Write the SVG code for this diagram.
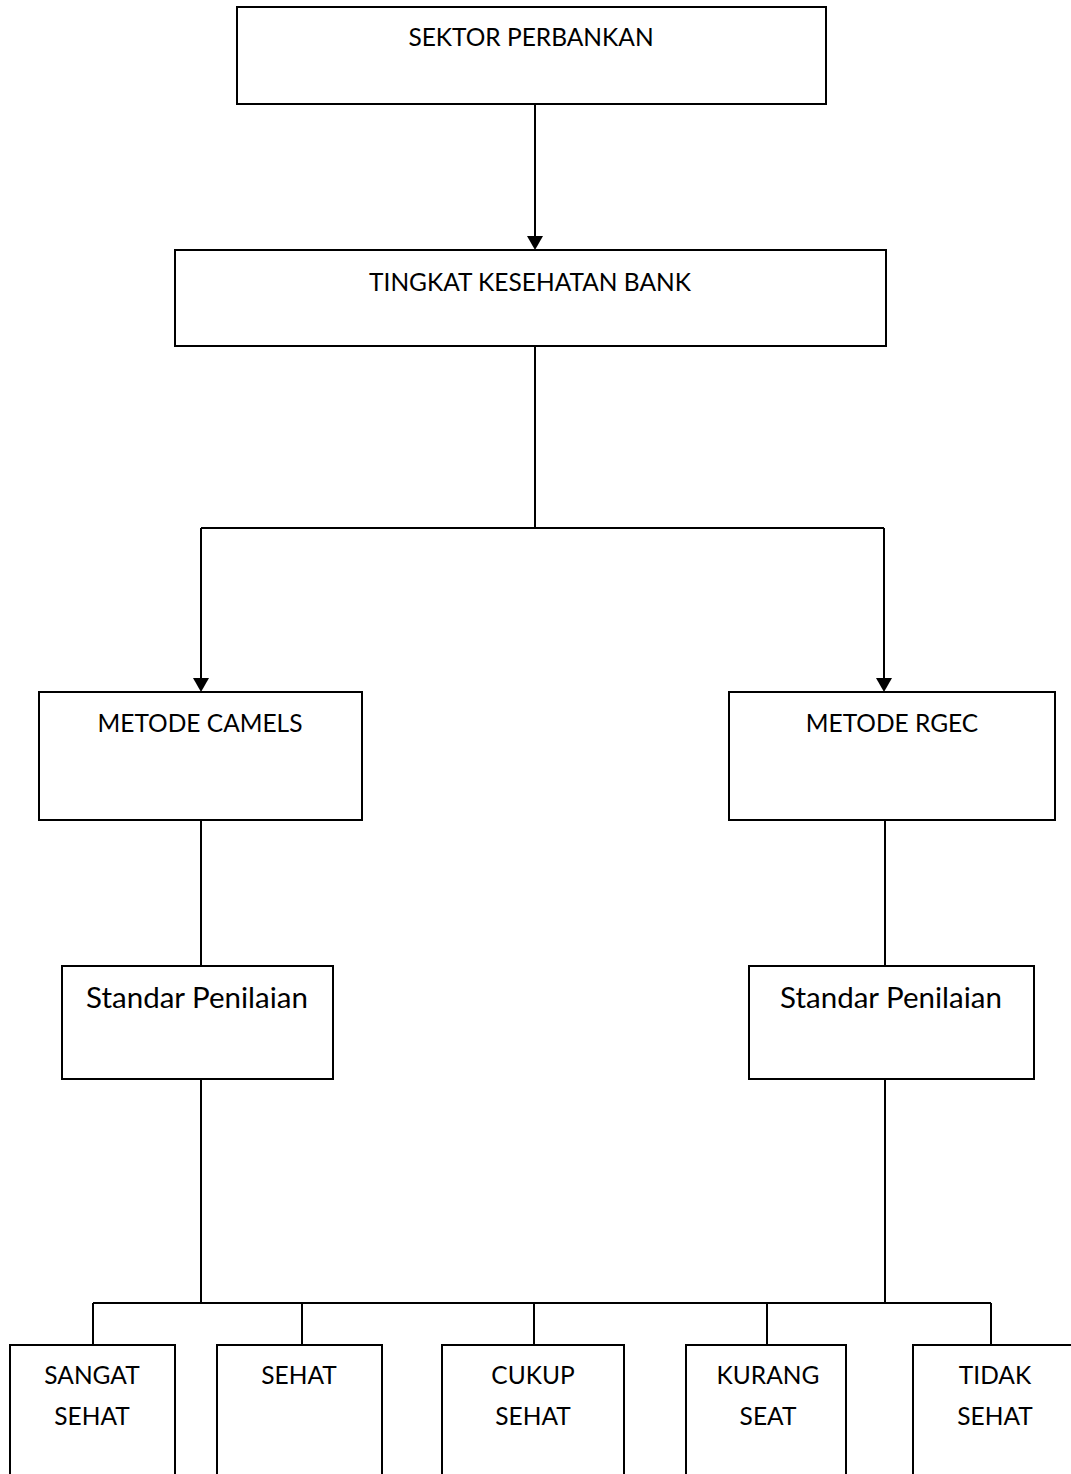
<svg xmlns="http://www.w3.org/2000/svg" width="1071" height="1474" viewBox="0 0 1071 1474">
<style>
.box{fill:#fff;stroke:#000;stroke-width:2}
.t{font-family:Lato,"Liberation Sans",sans-serif;font-size:24.5px;fill:#000;text-anchor:middle}
.tl{font-family:Lato,"Liberation Sans",sans-serif;font-size:29.5px;fill:#000;text-anchor:middle}
.c{fill:none;stroke:#000;stroke-width:2}
.ah{fill:#000}
</style>
<rect width="1071" height="1474" fill="#fff"/>
<g id="connectors">
<path class="c" d="M535 104V238"/>
<polygon class="ah" points="527,236 543,236 535,250"/>
<path class="c" d="M535 346V528M201 528H884M201 528V680M884 528V680"/>
<polygon class="ah" points="193,678 209,678 201,692"/>
<polygon class="ah" points="876,678 892,678 884,692"/>
<path class="c" d="M201 820V966M885 820V966M201 1079V1303M885 1079V1303M93 1303H991M93 1303V1345M302 1303V1345M534 1303V1345M767 1303V1345M991 1303V1345"/>
</g>
<g id="sektor"><rect class="box" x="237" y="7" width="589" height="97"/><text class="t" x="531" y="46">SEKTOR PERBANKAN</text></g>
<g id="tingkat"><rect class="box" x="175" y="250" width="711" height="96"/><text class="t" x="530" y="291">TINGKAT KESEHATAN BANK</text></g>
<g id="camels"><rect class="box" x="39" y="692" width="323" height="128"/><text class="t" x="200" y="732">METODE CAMELS</text></g>
<g id="rgec"><rect class="box" x="729" y="692" width="326" height="128"/><text class="t" x="892" y="732">METODE RGEC</text></g>
<g id="standar1"><rect class="box" x="62" y="966" width="271" height="113"/><text class="tl" x="197" y="1008">Standar Penilaian</text></g>
<g id="standar2"><rect class="box" x="749" y="966" width="285" height="113"/><text class="tl" x="891" y="1008">Standar Penilaian</text></g>
<g id="sangat"><rect class="box" x="10" y="1345" width="165" height="140"/><text class="t" x="92" y="1384">SANGAT</text><text class="t" x="92" y="1425">SEHAT</text></g>
<g id="sehat"><rect class="box" x="217" y="1345" width="165" height="140"/><text class="t" x="299" y="1384">SEHAT</text></g>
<g id="cukup"><rect class="box" x="442" y="1345" width="182" height="140"/><text class="t" x="533" y="1384">CUKUP</text><text class="t" x="533" y="1425">SEHAT</text></g>
<g id="kurang"><rect class="box" x="686" y="1345" width="160" height="140"/><text class="t" x="768" y="1384">KURANG</text><text class="t" x="768" y="1425">SEAT</text></g>
<g id="tidak"><rect class="box" x="913" y="1345" width="170" height="140"/><text class="t" x="995" y="1384">TIDAK</text><text class="t" x="995" y="1425">SEHAT</text></g>
</svg>
